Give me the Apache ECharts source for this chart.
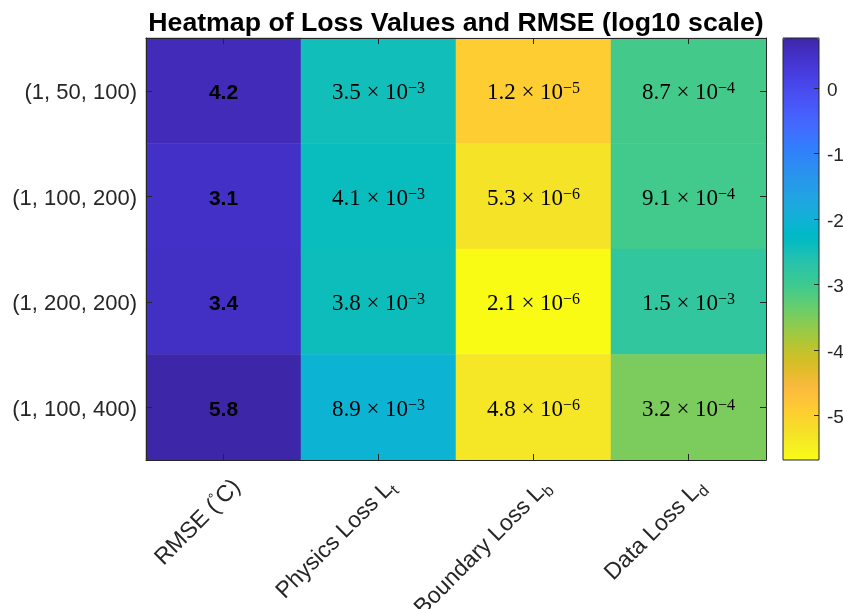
<!DOCTYPE html>
<html>
<head>
<meta charset="utf-8">
<script src="https://cdn.jsdelivr.net/npm/echarts@6/dist/echarts.min.js"></script>
<style>
  html, body { margin: 0; padding: 0; background: #ffffff; }
  #chart { width: 843px; height: 609px; }
</style>
</head>
<body>
<div id="chart"></div>
<script>
// Row labels: (layers, neurons, epochs) configurations
const configs = ['(1, 50, 100)', '(1, 100, 200)', '(1, 200, 200)', '(1, 100, 400)'];
// Column labels ("_x" marks a subscript, "°" a superscript)
const metrics = ['RMSE (°C)', 'Physics Loss L_t', 'Boundary Loss L_b', 'Data Loss L_d'];

// Values per column, one entry per configuration
const rmse = [4.2, 3.1, 3.4, 5.8];
const physicsLoss = [3.5e-3, 4.1e-3, 3.8e-3, 8.9e-3];
const boundaryLoss = [1.2e-5, 5.3e-6, 2.1e-6, 4.8e-6];
const dataLoss = [8.7e-4, 9.1e-4, 1.5e-3, 3.2e-4];

// Colorbar tick values (log10)
const colorbarTicks = [-5, -4, -3, -2, -1, 0];

// MATLAB parula colormap (64 entries), used flipped: low = yellow, high = dark blue
const parula = [
  [0.2422,0.1504,0.6603],[0.2504,0.1650,0.7076],[0.2578,0.1818,0.7511],[0.2647,0.1978,0.7952],
  [0.2706,0.2147,0.8364],[0.2751,0.2342,0.8710],[0.2783,0.2559,0.8991],[0.2803,0.2782,0.9221],
  [0.2813,0.3006,0.9414],[0.2810,0.3228,0.9579],[0.2795,0.3447,0.9717],[0.2760,0.3667,0.9829],
  [0.2699,0.3892,0.9906],[0.2602,0.4123,0.9952],[0.2440,0.4358,0.9988],[0.2206,0.4603,0.9973],
  [0.1963,0.4847,0.9892],[0.1834,0.5074,0.9798],[0.1786,0.5289,0.9682],[0.1764,0.5499,0.9520],
  [0.1687,0.5703,0.9359],[0.1540,0.5902,0.9218],[0.1460,0.6091,0.9079],[0.1380,0.6276,0.8973],
  [0.1248,0.6459,0.8883],[0.1113,0.6635,0.8763],[0.0952,0.6798,0.8598],[0.0689,0.6948,0.8394],
  [0.0297,0.7082,0.8163],[0.0036,0.7203,0.7917],[0.0067,0.7312,0.7660],[0.0433,0.7411,0.7394],
  [0.0964,0.7500,0.7120],[0.1408,0.7584,0.6842],[0.1717,0.7670,0.6554],[0.1938,0.7758,0.6251],
  [0.2161,0.7843,0.5923],[0.2470,0.7918,0.5567],[0.2906,0.7973,0.5188],[0.3406,0.8008,0.4789],
  [0.3909,0.8029,0.4354],[0.4456,0.8024,0.3909],[0.5044,0.7993,0.3480],[0.5616,0.7942,0.3045],
  [0.6174,0.7876,0.2612],[0.6720,0.7793,0.2227],[0.7242,0.7698,0.1910],[0.7738,0.7598,0.1646],
  [0.8203,0.7498,0.1535],[0.8634,0.7406,0.1596],[0.9035,0.7330,0.1774],[0.9393,0.7288,0.2100],
  [0.9728,0.7298,0.2394],[0.9956,0.7434,0.2371],[0.9970,0.7659,0.2199],[0.9952,0.7893,0.2028],
  [0.9892,0.8136,0.1885],[0.9786,0.8386,0.1766],[0.9676,0.8639,0.1643],[0.9610,0.8890,0.1537],
  [0.9597,0.9135,0.1423],[0.9628,0.9373,0.1265],[0.9691,0.9606,0.1064],[0.9769,0.9839,0.0805]
];
const toHex = c => '#' + c.map(v => Math.round(v * 255).toString(16).padStart(2, '0')).join('');
const colormap = parula.map(toHex).reverse();

const columns = [rmse, physicsLoss, boundaryLoss, dataLoss];
const cells = [];
columns.forEach((col, xi) => {
  col.forEach((v, yi) => {
    cells.push({ value: [xi, yi, Math.log10(v)], raw: v, col: xi });
  });
});
const allLogs = cells.map(c => c.value[2]);
const cMin = Math.min(...allLogs);
const cMax = Math.max(...allLogs);

function sciLabel(v) {
  const e = Math.floor(Math.log10(v) + 1e-12);
  const m = v / Math.pow(10, e);
  return '{m|' + m.toFixed(1) + ' \u00d7 10}{sup|\u2212' + (-e) + '}';
}

function metricLabel(s) {
  return s.replace('°', '{deg|°}').replace(/_(\w)/, '{sub|$1}');
}

const axisColor = '#262626';
const sansFont = '"Liberation Sans", Arial, Helvetica, sans-serif';
const serifFont = '"Liberation Serif", "Times New Roman", serif';

const plot = { left: 146, top: 38, width: 620, height: 422 };
const cbar = { left: 783, top: 38, width: 36, height: 422 };

const chart = echarts.init(document.getElementById('chart'), null, { renderer: 'canvas' });

const frameAxis = {
  axisLine: { show: true, onZero: false, lineStyle: { color: axisColor, width: 1 } },
  axisTick: { show: true, inside: true, alignWithLabel: true, length: 6, lineStyle: { color: axisColor } },
  splitLine: { show: false },
  z: 5
};

const option = {
  backgroundColor: '#ffffff',
  animation: false,
  title: {
    text: 'Heatmap of Loss Values and RMSE (log10 scale)',
    left: plot.left + plot.width / 2,
    top: 10,
    padding: 0,
    textAlign: 'center',
    textStyle: { fontFamily: sansFont, fontSize: 26.7, fontWeight: 'bold', color: '#000000' }
  },
  grid: [
    {
      left: plot.left, top: plot.top, width: plot.width, height: plot.height,
      show: false, containLabel: false, outerBoundsMode: 'none'
    },
    {
      left: cbar.left, top: cbar.top, width: cbar.width, height: cbar.height,
      show: true, z: 10, borderColor: axisColor, borderWidth: 1, backgroundColor: 'transparent',
      containLabel: false, outerBoundsMode: 'none'
    }
  ],
  xAxis: [
    Object.assign({}, frameAxis, {
      type: 'category', gridIndex: 0, position: 'bottom',
      data: metrics,
      axisLabel: {
        interval: 0, rotate: 45, margin: 10,
        fontFamily: sansFont, fontSize: 23, color: axisColor, lineHeight: 32,
        padding: [38, 0, 0, 0],
        formatter: metricLabel,
        rich: {
          sub: { fontFamily: sansFont, fontSize: 16, color: axisColor, lineHeight: 16, padding: [14, 0, 0, 0] },
          deg: { fontFamily: sansFont, fontSize: 14, color: axisColor, lineHeight: 14, padding: [0, 0, 12, 0] }
        }
      }
    }),
    Object.assign({}, frameAxis, {
      type: 'category', gridIndex: 0, position: 'top',
      data: metrics,
      axisLabel: { show: false }
    }),
    { type: 'value', gridIndex: 1, show: false, min: 1, max: 2 }
  ],
  yAxis: [
    Object.assign({}, frameAxis, {
      type: 'category', gridIndex: 0, position: 'left', inverse: true,
      data: configs,
      axisLabel: {
        margin: 9, formatter: v => '{t|' + v + '}',
        rich: { t: { fontFamily: sansFont, fontSize: 22, color: axisColor, padding: [5, 0, 0, 0] } }
      }
    }),
    Object.assign({}, frameAxis, {
      type: 'category', gridIndex: 0, position: 'right', inverse: true,
      data: configs,
      axisLabel: { show: false }
    }),
    {
      type: 'value', gridIndex: 1, position: 'right', min: cMin, max: cMax, z: 11,
      axisLine: { show: false, onZero: false },
      axisTick: { show: true, inside: true, length: 5, lineStyle: { color: axisColor }, customValues: colorbarTicks },
      axisLabel: {
        margin: 8, customValues: colorbarTicks,
        formatter: v => '{t|' + String(v) + '}',
        rich: { t: { fontFamily: sansFont, fontSize: 19, color: axisColor, padding: [5, 0, 0, 0] } }
      },
      splitLine: { show: false }
    }
  ],
  visualMap: {
    type: 'continuous',
    min: cMin, max: cMax,
    dimension: 2,
    seriesIndex: 0,
    calculable: false,
    realtime: false,
    left: cbar.left, top: cbar.top,
    itemWidth: cbar.width, itemHeight: cbar.height,
    padding: 0,
    text: null,
    showLabel: false,
    hoverLink: false,
    inRange: { color: colormap }
  },
  series: [
    {
      type: 'heatmap',
      xAxisIndex: 0, yAxisIndex: 0,
      data: cells,
      itemStyle: { borderWidth: 0 },
      emphasis: { disabled: true },
      label: {
        show: true,
        color: '#000000',
        padding: [5, 0, 0, 0],
        formatter: p => p.data.col === 0
          ? '{b|' + p.data.raw.toFixed(1) + '}'
          : sciLabel(p.data.raw),
        rich: {
          b: { fontFamily: sansFont, fontSize: 21, fontWeight: 'bold', color: '#000000' },
          m: { fontFamily: serifFont, fontSize: 23, color: '#000000', lineHeight: 30 },
          sup: { fontFamily: serifFont, fontSize: 16, color: '#000000', lineHeight: 16, padding: [0, 0, 8, 0] }
        }
      }
    }
  ]
};

chart.setOption(option);
</script>
</body>
</html>
